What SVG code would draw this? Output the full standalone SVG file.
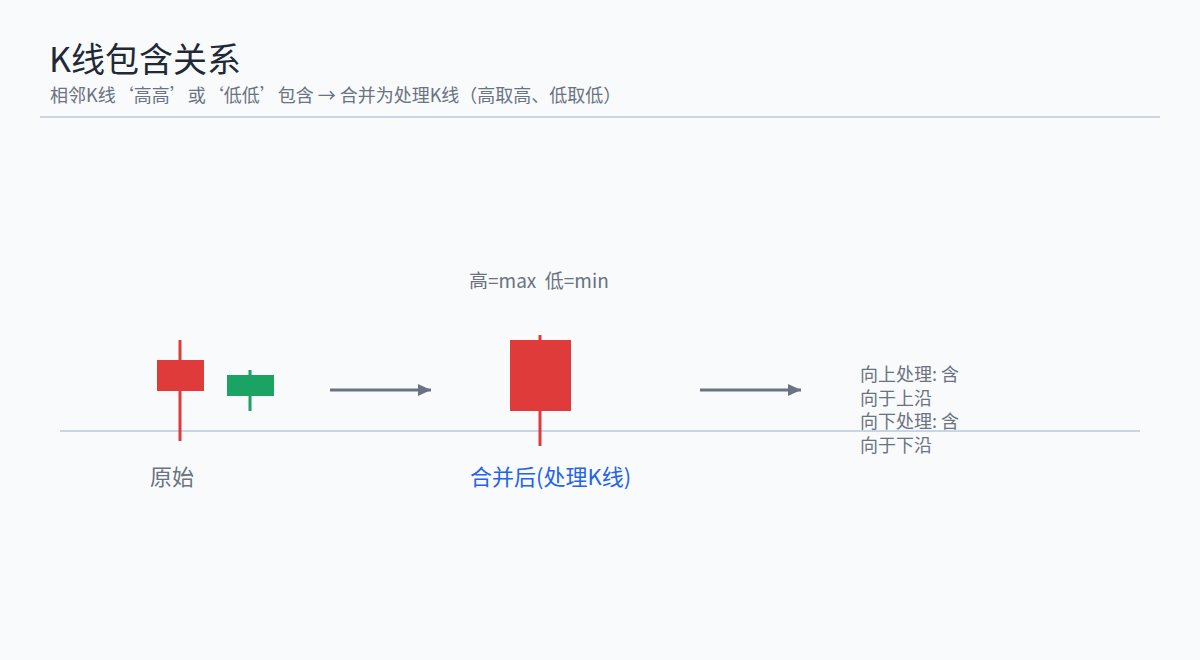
<svg xmlns="http://www.w3.org/2000/svg" width="1200" height="660" viewBox="0 0 1200 660">
<style>
  text { font-family: "Noto Sans CJK SC", "Noto Sans", sans-serif; white-space: pre; }
  .title { font-size: 34px; fill: #1f2937; }
  .sub { font-size: 18px; fill: #6b7280; }
  .lbl { font-size: 22px; fill: #6b7280; }
  .note { font-size: 18px; fill: #6b7280; }
  .rule { stroke: #cbd5e1; stroke-width: 2; }
  .arrow { stroke: #6b7280; stroke-width: 3; fill: none; }
  .red { fill: #e03b3b; }
  .redw { stroke: #e03b3b; stroke-width: 3; }
  .green { fill: #1aa362; }
  .greenw { stroke: #1aa362; stroke-width: 3; }
</style>
<defs>
  <marker id="ah" markerUnits="userSpaceOnUse" markerWidth="14" markerHeight="14" refX="13" refY="6" orient="auto">
    <path d="M0,0 L13,6 L0,12 Z" fill="#6b7280"/>
  </marker>
</defs>
<rect width="1200" height="660" fill="#f8fafc"/>
<g id="header">
  <text class="title" x="49" y="72">K线包含关系</text>
  <text class="sub" x="50" y="102">相邻K线‘高高’或‘低低’包含 → 合并为处理K线（高取高、低取低）</text>
  <line class="rule" x1="40" y1="117" x2="1160" y2="117"/>
</g>
<g id="baseline">
  <line class="rule" x1="60" y1="431" x2="1140" y2="431"/>
</g>
<g id="candle-1">
  <line class="redw" x1="180" y1="340" x2="180" y2="441"/>
  <rect class="red" x="157" y="360" width="47" height="31"/>
</g>
<g id="candle-2">
  <line class="greenw" x1="250" y1="370" x2="250" y2="411"/>
  <rect class="green" x="227" y="375" width="47" height="21"/>
</g>
<g id="label-original">
  <text class="lbl" x="150" y="485">原始</text>
</g>
<g id="merged-note">
  <text class="sub" x="469" y="288" xml:space="preserve" style="font-size:19px">高=max  低=min</text>
</g>
<g id="candle-merged">
  <line class="redw" x1="540" y1="335" x2="540" y2="446"/>
  <rect class="red" x="510" y="340" width="61" height="71"/>
</g>
<g id="label-merged">
  <text class="lbl" x="470" y="485" style="fill:#2563eb">合并后(处理K线)</text>
</g>
<g id="rules-note">
  <text class="note" x="860" y="381">向上处理: 含</text>
  <text class="note" x="860" y="404.5">向于上沿</text>
  <text class="note" x="860" y="428">向下处理: 含</text>
  <text class="note" x="860" y="451.5">向于下沿</text>
</g>
<g id="connectors">
  <line class="arrow" x1="330" y1="390" x2="431" y2="390" marker-end="url(#ah)"/>
  <line class="arrow" x1="700" y1="390" x2="801" y2="390" marker-end="url(#ah)"/>
</g>
</svg>
